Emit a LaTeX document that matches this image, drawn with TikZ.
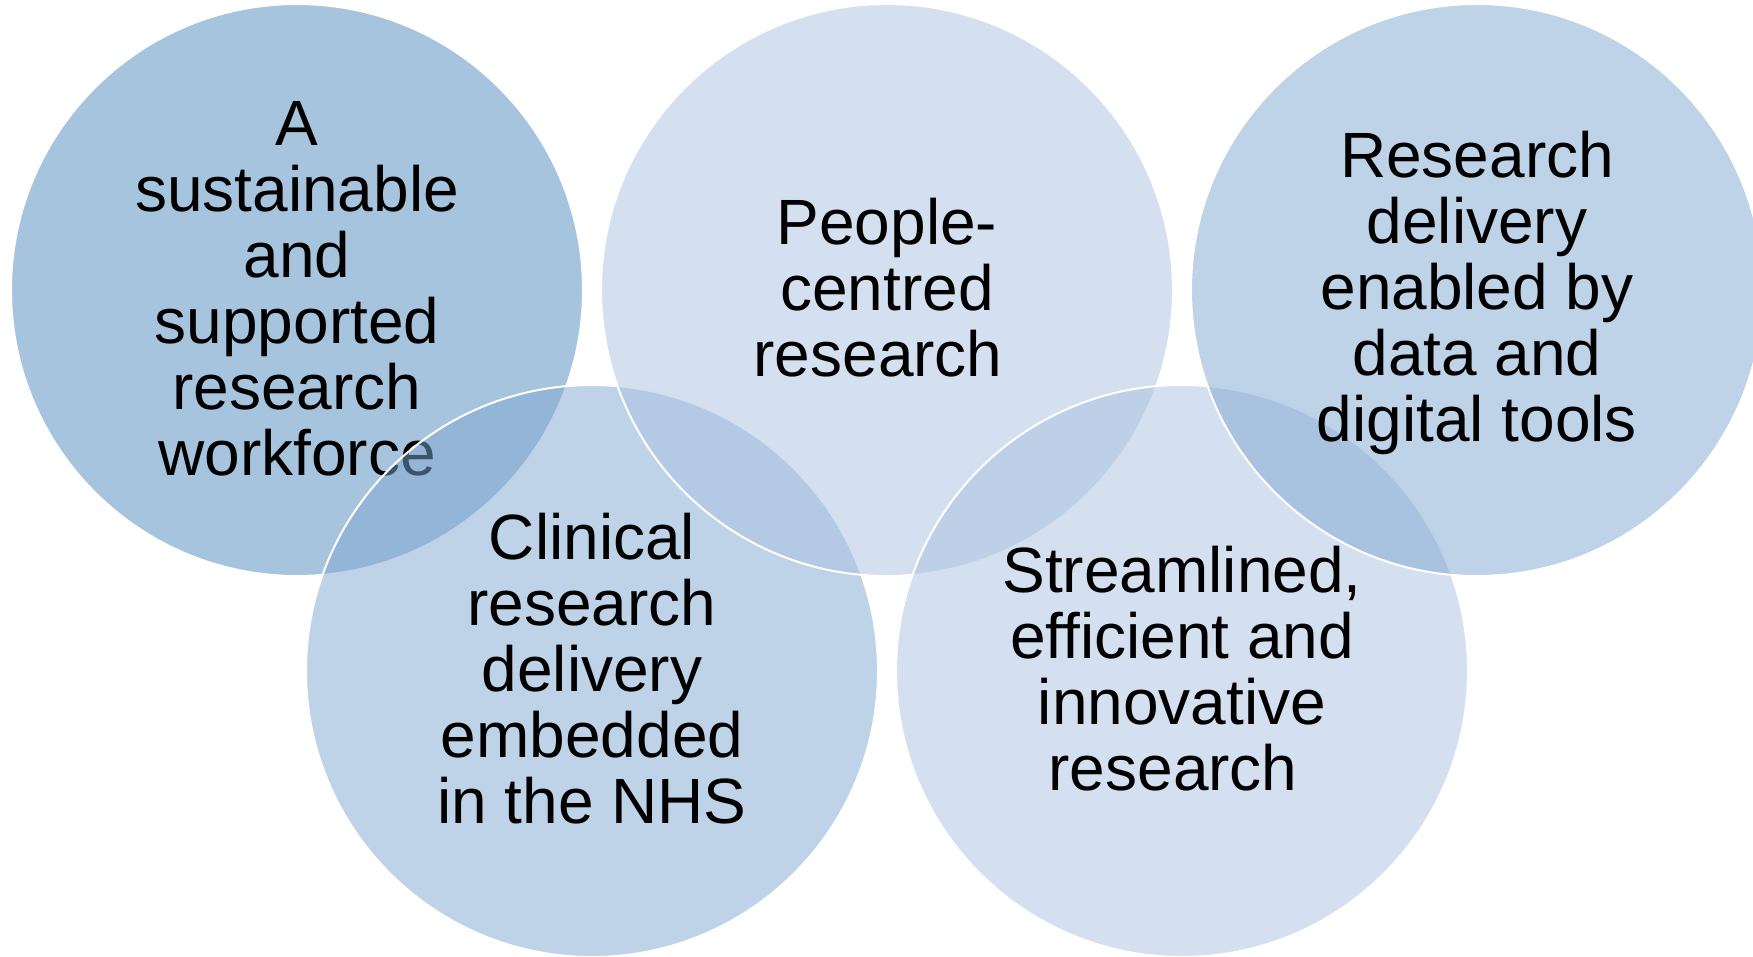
\documentclass[tikz,border=0pt]{standalone}
\usepackage{fontspec}
\setmainfont{Liberation Sans}
\definecolor{cA}{RGB}{79,137,191}
\definecolor{cB}{RGB}{169,193,225}
\definecolor{cC}{RGB}{125,165,209}
\definecolor{cD}{RGB}{127,167,209}
\definecolor{cE}{RGB}{169,193,225}
\begin{document}
\begin{tikzpicture}[x=1pt,y=-1pt,
  venn/.style={circle,minimum size=572pt,inner sep=0pt,outer sep=0pt,
    draw=white,line width=2pt,fill opacity=0.5,draw opacity=1},
  lbl/.style={font=\fontsize{64}{66}\selectfont,align=center,inner sep=0pt,anchor=base,text=black}]
\useasboundingbox (0,0) rectangle (1753,956);
% circle 1
\node[venn,fill=cA] (c1) at (297,290) {};
\node[lbl] (t1) at (297,475) {A\\sustainable\\and\\supported\\research\\workforce};
% circle 4
\node[venn,fill=cD] (c4) at (592,671) {};
\node[lbl] (t4) at (592,823) {Clinical\\research\\delivery\\embedded\\in the NHS};
% circle 2
\node[venn,fill=cB] (c2) at (887,290) {};
\node[lbl] (t2) at (887,376) {People-\\centred\\research\kern0.278em};
% circle 5
\node[venn,fill=cE] (c5) at (1182,671) {};
\node[lbl] (t5) at (1182,790) {Streamlined,\\efficient and\\innovative\\research\kern0.278em};
% circle 3
\node[venn,fill=cC] (c3) at (1477,290) {};
\node[lbl] (t3) at (1477,441) {Research\\delivery\\enabled by\\data and\\digital tools};
\end{tikzpicture}
\end{document}
